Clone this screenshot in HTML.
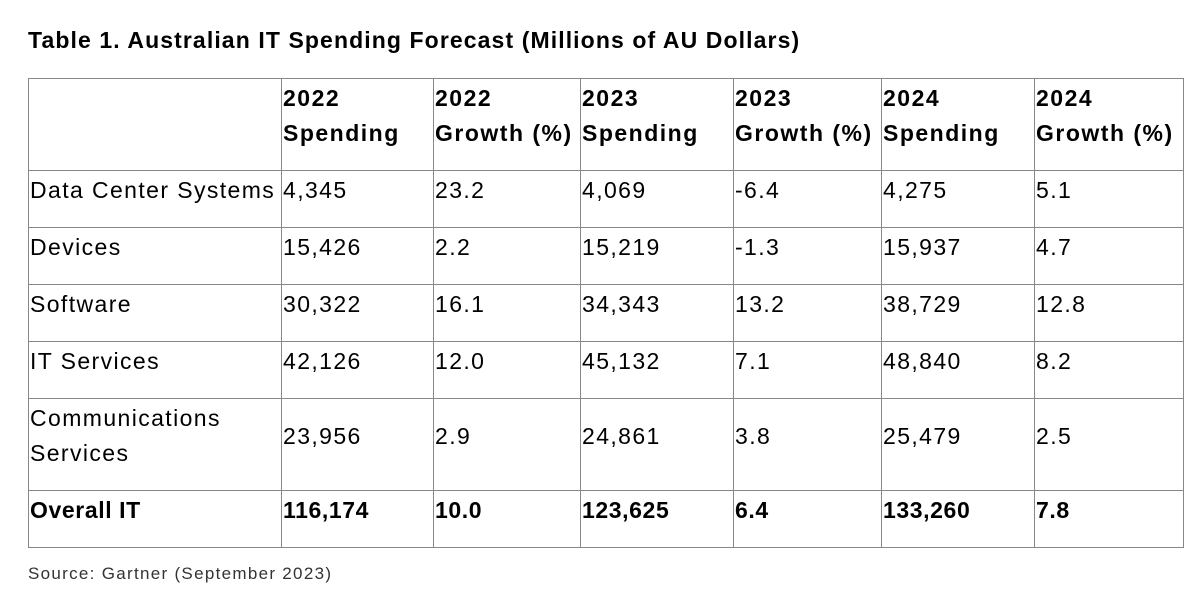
<!DOCTYPE html>
<html><head><meta charset="utf-8">
<style>
body{margin:0;background:#fff;width:1197px;height:595px;overflow:hidden;font-family:"Liberation Sans",sans-serif;color:#000}
#title{position:absolute;left:28px;top:27px;font-size:23px;font-weight:bold;letter-spacing:1.1px}
table{position:absolute;left:28px;top:78px;border-collapse:collapse;table-layout:fixed}
td,th{border:1px solid #888;padding:2px 0 19px 1px;font-size:23px;line-height:35px;vertical-align:middle;text-align:left;letter-spacing:1.4px;box-sizing:border-box;white-space:nowrap}
th{font-weight:bold;letter-spacing:1.5px}
tr.bold td{font-weight:bold;letter-spacing:0.6px}
#source{position:absolute;left:28px;top:564px;font-size:17px;color:#333;letter-spacing:1.3px}
</style></head><body>
<div id="title">Table 1. Australian IT Spending Forecast (Millions of AU Dollars)</div>
<table>
<colgroup><col style="width:253px"><col style="width:152px"><col style="width:147px"><col style="width:153px"><col style="width:148px"><col style="width:153px"><col style="width:149px"></colgroup>
<tr><th></th><th>2022<br>Spending</th><th>2022<br>Growth (%)</th><th>2023<br>Spending</th><th>2023<br>Growth (%)</th><th>2024<br>Spending</th><th>2024<br>Growth (%)</th></tr>
<tr><td>Data Center Systems</td><td>4,345</td><td>23.2</td><td>4,069</td><td>-6.4</td><td>4,275</td><td>5.1</td></tr>
<tr><td>Devices</td><td>15,426</td><td>2.2</td><td>15,219</td><td>-1.3</td><td>15,937</td><td>4.7</td></tr>
<tr><td>Software</td><td>30,322</td><td>16.1</td><td>34,343</td><td>13.2</td><td>38,729</td><td>12.8</td></tr>
<tr><td>IT Services</td><td>42,126</td><td>12.0</td><td>45,132</td><td>7.1</td><td>48,840</td><td>8.2</td></tr>
<tr><td>Communications<br>Services</td><td>23,956</td><td>2.9</td><td>24,861</td><td>3.8</td><td>25,479</td><td>2.5</td></tr>
<tr class="bold"><td>Overall IT</td><td>116,174</td><td>10.0</td><td>123,625</td><td>6.4</td><td>133,260</td><td>7.8</td></tr>
</table>
<div id="source">Source: Gartner (September 2023)</div>
</body></html>
